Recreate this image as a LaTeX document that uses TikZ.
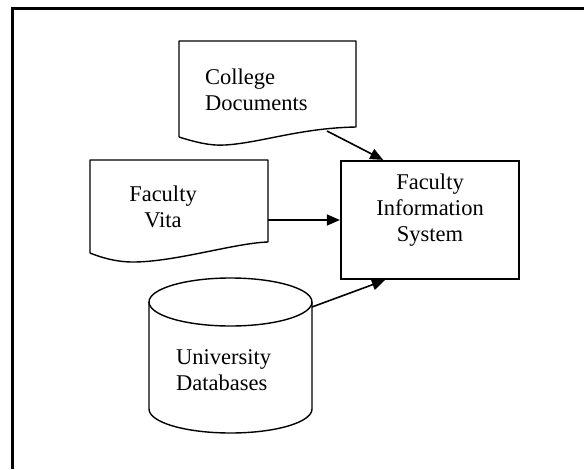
\documentclass[tikz,border=0pt]{standalone}
\usepackage{fontspec}
\setmainfont{Liberation Serif}
\usetikzlibrary{arrows.meta,calc}
\begin{document}
\begin{tikzpicture}[x=1pt,y=-1pt,
  outline/.style={draw=black,line width=1.4pt,line join=round},
  txt/.style={inner sep=0pt,font=\fontsize{22.5}{26}\selectfont},
  flow/.style={draw=black,line width=1.6pt,-{Triangle[length=13pt,width=11pt]}},
  ]
\useasboundingbox (0,0) rectangle (584,469);
% page frame (open on the right and bottom)
\draw[line width=3pt] (12.5,469) -- (12.5,8.5) -- (584,8.5);

% document: College Documents (base anchor = baseline of last line)
\draw[outline] (179,137) -- (179,41) -- (356,41) -- (356,127)
  .. controls (300,128) and (260,143) .. (225,145)
  .. controls (210,146) and (195,142) .. (179,137);
\node[txt,align=left,anchor=base west] (college) at (205,110) {College\\Documents};
\coordinate (college-out) at (327,131);

% document: Faculty Vita
\draw[outline] (90,253) -- (90,160) -- (268,160) -- (268,242)
  .. controls (235,243) and (175,262) .. (133,262)
  .. controls (115,262) and (100,257) .. (90,253);
\node[txt,align=center,anchor=base] (vita) at (163,227) {Faculty\\Vita};
\coordinate (vita-out) at (268,220);

% database cylinder: University Databases
\draw[outline] (149,302) -- (149,409)
  .. controls (149,422.3) and (185.5,433) .. (230.5,433)
  .. controls (275.5,433) and (312,422.3) .. (312,409) -- (312,302);
\draw[outline] (230.5,302) ellipse [x radius=81.5, y radius=24];
\node[txt,align=left,anchor=base west] (univ) at (176,390) {University\\Databases};
\coordinate (univ-out) at (312,307);

% process box: Faculty Information System
\node[draw=black,line width=2.2pt,minimum width=178pt,minimum height=118pt,inner sep=0pt] (fis) at (430,220) {};
\node[txt,align=center,anchor=base] (fistext) at (430,241) {Faculty\\Information\\System};

% connectors
\draw[flow] (college-out) -- ($(fis.north west)!0.24!(fis.north east)$);
\draw[flow] (vita-out) -- (fis.west);
\draw[flow] (univ-out) -- ($(fis.south west)!0.25!(fis.south east)$);
\end{tikzpicture}
\end{document}
